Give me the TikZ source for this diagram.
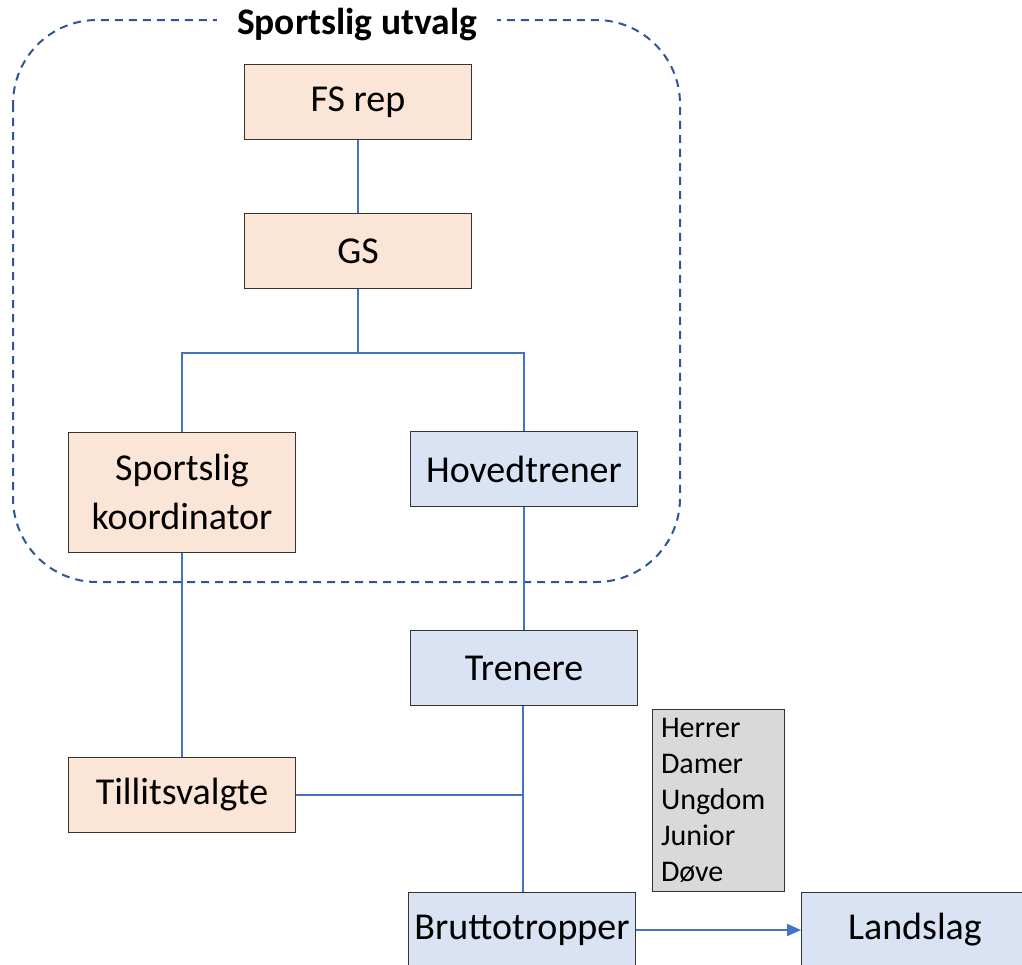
\documentclass[tikz,border=0pt]{standalone}
\usepackage{fontspec}
\setmainfont{Carlito}
\usetikzlibrary{arrows.meta}
\definecolor{lineblue}{HTML}{4472C4}
\definecolor{dashblue}{HTML}{2F5597}
\definecolor{boxorange}{HTML}{FBE5D6}
\definecolor{boxblue}{HTML}{DAE3F3}
\definecolor{boxgrey}{HTML}{D9D9D9}

\begin{document}
\begin{tikzpicture}[x=1pt,y=-1pt,
    box/.style={draw=black!80,line width=1pt,minimum width=227pt,minimum height=75pt,
      inner sep=0pt,align=center,font=\fontsize{38}{49}\selectfont},
    orangebox/.style={box,fill=boxorange},
    bluebox/.style={box,fill=boxblue},
    link/.style={draw=lineblue,line width=2pt}]
    \clip (0,0) rectangle (1022,964);
    \useasboundingbox (0,0) rectangle (1022,964);
    % sportslig utvalg
    \draw[dashblue,line width=2pt,dash pattern=on 8pt off 6pt,rounded corners=84pt] (13,20) rectangle (680,582);
    \node[fill=white,inner xsep=20pt,font=\bfseries\fontsize{37.5}{40}\selectfont] (title) at (357,25) {Sportslig utvalg};
    \node[orangebox] (fs) at (358,102) {FS rep};
    \node[orangebox] (gs) at (358,251) {GS};
    \node[orangebox,minimum height=120pt] (sk) at (182,492) {Sportslig\\koordinator};
    \node[bluebox] (ht) at (524,469) {Hovedtrener};
    \node[bluebox] (tr) at (524,668) {Trenere};
    \node[orangebox] (tv) at (182,795) {Tillitsvalgte};
    \node[bluebox] (bt) at (522,930) {Bruttotropper};
    \node[bluebox] (ls) at (915,930) {Landslag};
    \node[draw=black!80,line width=1pt,fill=boxgrey,minimum height=182pt,text width=114pt,inner xsep=9pt,
      align=left,font=\fontsize{30}{36}\selectfont] (lag) at (718,800) {Herrer\\Damer\\Ungdom\\Junior\\Døve};
    \coordinate (split) at (358,353);
    \coordinate (join) at (523,795);
    \draw[link] (fs) -- (gs);
    \draw[link] (gs) -- (split);
    \draw[link] (split) -| (sk);
    \draw[link] (split) -| (ht);
    \draw[link] (ht) -- (tr);
    \draw[link] (sk) -- (tv);
    \draw[link] (tv) -- (join);
    \draw[link] (tr.south -| join) -- (bt.north -| join);
    \draw[link,-{Triangle[length=14pt,width=12pt]}] (bt) -- (ls);
\end{tikzpicture}
\end{document}
